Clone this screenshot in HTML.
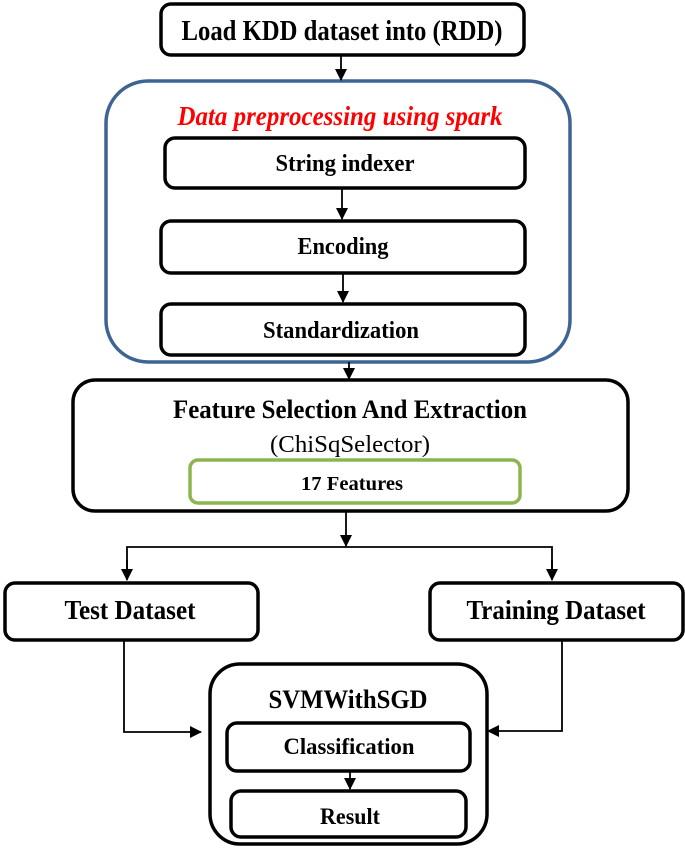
<!DOCTYPE html>
<html><head><meta charset="utf-8"><style>html,body{margin:0;padding:0;background:#fff}svg{display:block}</style></head>
<body>
<svg width="685" height="849" viewBox="0 0 685 849" xmlns="http://www.w3.org/2000/svg" font-family="'Liberation Serif', serif">
<defs>
<marker id="a" markerWidth="12" markerHeight="12" refX="11" refY="6" orient="auto" markerUnits="userSpaceOnUse">
<path d="M0,0 L12,6 L0,12 z" fill="#000"/></marker>
</defs>
<g fill="none" stroke="#000" stroke-width="3.5">
<rect x="161" y="4" width="363" height="51" rx="10"/>
<rect x="165" y="138" width="360" height="50" rx="10"/>
<rect x="161" y="221" width="364" height="52" rx="10"/>
<rect x="161" y="304" width="364" height="51" rx="10"/>
<rect x="73" y="380" width="555" height="131" rx="22"/>
<rect x="5" y="583" width="253" height="57" rx="10"/>
<rect x="430" y="583" width="253" height="57" rx="10"/>
<rect x="210" y="664" width="277" height="180" rx="30"/>
<rect x="227" y="723" width="243" height="48" rx="10"/>
<rect x="231" y="791" width="235" height="46" rx="10"/>
</g>
<rect x="106" y="81" width="464" height="281" rx="42" fill="none" stroke="#3e6494" stroke-width="3.5"/>
<rect x="190" y="460" width="330" height="43" rx="8" fill="none" stroke="#8cb550" stroke-width="3.5"/>
<g stroke="#000" stroke-width="1.8" fill="none">
<line x1="341" y1="55" x2="341" y2="80" marker-end="url(#a)"/>
<line x1="342" y1="188" x2="342" y2="219" marker-end="url(#a)"/>
<line x1="343" y1="273" x2="343" y2="302" marker-end="url(#a)"/>
<line x1="349" y1="362" x2="349" y2="379" marker-end="url(#a)"/>
<line x1="346" y1="511" x2="346" y2="546" marker-end="url(#a)"/>
<polyline points="127,578 127,547 552,547 552,578"/>
<line x1="127" y1="560" x2="127" y2="580" marker-end="url(#a)"/>
<line x1="552" y1="560" x2="552" y2="580" marker-end="url(#a)"/>
<polyline points="124,640 124,732 201,732" marker-end="url(#a)"/>
<polyline points="562,640 562,731 488,731" marker-end="url(#a)"/>
<line x1="350" y1="771" x2="350" y2="789" marker-end="url(#a)"/>
</g>
<g font-weight="bold" fill="#000" text-anchor="middle">
<text x="342" y="40" font-size="28" textLength="321" lengthAdjust="spacingAndGlyphs">Load KDD dataset into (RDD)</text>
<text x="340" y="125" font-size="27" font-style="italic" fill="#ff0000" textLength="325" lengthAdjust="spacingAndGlyphs">Data preprocessing using spark</text>
<text x="345" y="171" font-size="24" textLength="139" lengthAdjust="spacingAndGlyphs">String indexer</text>
<text x="343" y="254" font-size="24" textLength="91" lengthAdjust="spacingAndGlyphs">Encoding</text>
<text x="341" y="338" font-size="24" textLength="156" lengthAdjust="spacingAndGlyphs">Standardization</text>
<text x="350" y="418" font-size="26" textLength="354" lengthAdjust="spacingAndGlyphs">Feature Selection And Extraction</text>
<text x="350" y="452" font-size="24" font-weight="normal" textLength="160" lengthAdjust="spacingAndGlyphs">(ChiSqSelector)</text>
<text x="352" y="490" font-size="20" textLength="102" lengthAdjust="spacingAndGlyphs">17 Features</text>
<text x="130" y="619" font-size="27" textLength="131" lengthAdjust="spacingAndGlyphs">Test Dataset</text>
<text x="556" y="619" font-size="27" textLength="179" lengthAdjust="spacingAndGlyphs">Training Dataset</text>
<text x="348" y="708" font-size="26" textLength="159" lengthAdjust="spacingAndGlyphs">SVMWithSGD</text>
<text x="349" y="754" font-size="23" textLength="131" lengthAdjust="spacingAndGlyphs">Classification</text>
<text x="350" y="824" font-size="23" textLength="60" lengthAdjust="spacingAndGlyphs">Result</text>
</g>
</svg>
</body></html>
